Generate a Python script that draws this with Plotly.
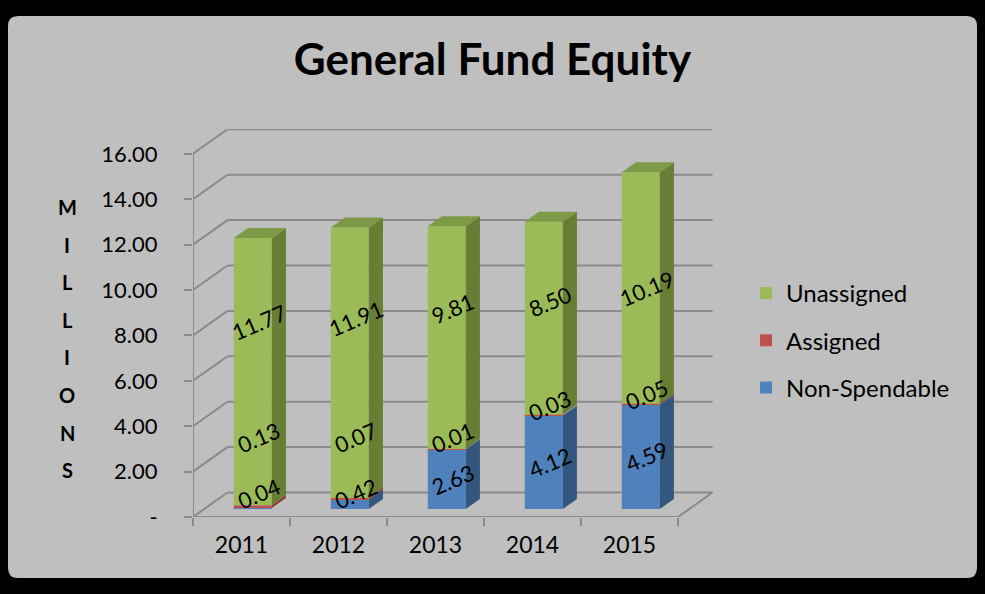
import plotly.graph_objects as go

# ---------------- data ----------------
years = ["2011", "2012", "2013", "2014", "2015"]
non_spendable = [0.04, 0.42, 2.63, 4.12, 4.59]
assigned = [0.13, 0.07, 0.01, 0.03, 0.05]
unassigned = [11.77, 11.91, 9.81, 8.50, 10.19]
y_tick_vals = [0, 2, 4, 6, 8, 10, 12, 14, 16]
y_tick_text = ["-", "2.00", "4.00", "6.00", "8.00", "10.00", "12.00", "14.00", "16.00"]
title_text = "General Fund Equity"
y_title = "MILLIONS"

# ---------------- geometry / style ----------------
W, H = 985, 594
L, R, T, B = 193, 272, 129, 77
PW, PH = W - L - R, H - T - B
PX_X, PX_Y = 97.0, 22.7
x_range = [-0.5, -0.5 + PW / PX_X]
y_range = [0, PH / PX_Y]
DDX, DDY = 34.5 / PX_X, 24.5 / PX_Y      # full depth of the 3-D floor
FRONT = 0.327                             # depth fraction of bar front face
SIDE = 0.41                               # depth fraction of bar thickness
BAR_W = 38 / PX_X
GRID = "#8a8a8a"
BG = "#bfbfbf"
FONT = "Lato, 'Open Sans', sans-serif"

series = [
    ("Non-Spendable", non_spendable, "#4f81bd", "#34577f", 3),
    ("Assigned", assigned, "#c0504d", "#8b3836", 2),
    ("Unassigned", unassigned, "#9bbb59", "#687e35", 1),
]
TOP_GREEN = "#7f9a47"

def px2paper(px, py):
    return (px - L) / PW, (H - B - py) / PH

fig = go.Figure()

n = len(years)
xs = list(range(n))
cum = [0.0] * n
base0 = FRONT * DDY
xoff = FRONT * DDX
sdx, sdy = SIDE * DDX, SIDE * DDY

# front faces (bars)
for name, vals, col, side_col, rank in series:
    fig.add_trace(go.Bar(
        x=[i + xoff for i in xs], y=vals,
        base=[base0 + c for c in cum], width=BAR_W,
        marker=dict(color=col, line=dict(width=0)),
        name=name, legendgroup=name, legendrank=rank, hoverinfo="skip",
    ))
    # side faces
    for i in xs:
        xr = i + xoff + BAR_W / 2
        y0 = base0 + cum[i]
        y1 = y0 + vals[i]
        fig.add_trace(go.Scatter(
            x=[xr, xr + sdx, xr + sdx, xr, xr],
            y=[y0, y0 + sdy, y1 + sdy, y1, y0],
            fill="toself", fillcolor=side_col, mode="lines",
            line=dict(width=0, color=side_col),
            showlegend=False, hoverinfo="skip"))
    cum = [c + v for c, v in zip(cum, vals)]

# top faces
for i in xs:
    xr = i + xoff + BAR_W / 2
    xl = xr - BAR_W
    yt = base0 + cum[i]
    fig.add_trace(go.Scatter(
        x=[xl, xr, xr + sdx, xl + sdx, xl],
        y=[yt, yt, yt + sdy, yt + sdy, yt],
        fill="toself", fillcolor=TOP_GREEN, mode="lines",
        line=dict(width=0, color=TOP_GREEN),
        showlegend=False, hoverinfo="skip"))

# walls / gridlines as shapes below
shapes = []
x0p, y0p = px2paper(8, 578)
x1p, y1p = px2paper(977, 16)
rx, ry = 10 / PW, 10 / PH
path = (f"M{x0p + rx},{y0p} L{x1p - rx},{y0p} Q{x1p},{y0p} {x1p},{y0p + ry} "
        f"L{x1p},{y1p - ry} Q{x1p},{y1p} {x1p - rx},{y1p} L{x0p + rx},{y1p} "
        f"Q{x0p},{y1p} {x0p},{y1p - ry} L{x0p},{y0p + ry} Q{x0p},{y0p} {x0p + rx},{y0p} Z")
shapes.append(dict(type="path", xref="paper", yref="paper", path=path,
                   fillcolor=BG, line=dict(width=0), layer="below"))
gl = dict(color=GRID, width=2)
for v in y_tick_vals:
    shapes.append(dict(type="line", xref="x", yref="y", x0=-0.5, y0=v,
                       x1=-0.5 + DDX, y1=v + DDY, line=gl, layer="below"))
    shapes.append(dict(type="line", xref="x", yref="y", x0=-0.5 + DDX, y0=v + DDY,
                       x1=x_range[1] - 0.005, y1=v + DDY, line=gl, layer="below"))
shapes.append(dict(type="line", xref="x", yref="y", x0=-0.5, y0=0, x1=-0.5,
                   y1=y_tick_vals[-1], line=gl, layer="below"))
shapes.append(dict(type="line", xref="x", yref="y", x0=-0.5, y0=0, x1=n - 0.5,
                   y1=0, line=gl, layer="below"))
shapes.append(dict(type="line", xref="x", yref="y", x0=n - 0.5, y0=0,
                   x1=n - 0.5 + DDX, y1=DDY, line=gl, layer="below"))

# data labels (rotated)
annotations = []
lab_font = dict(family=FONT, size=22, color="black")
ang = -23
for i in xs:
    xc = i + xoff + 0.06
    ns, asg, un = non_spendable[i], assigned[i], unassigned[i]
    y_ns = base0 + max(ns / 2, 0.7)
    y_as = base0 + max(ns + asg + 0.4, 3.15)
    mid_un = ns + asg + un / 2
    y_un = base0 + 0.4 * mid_un + 5.8
    for txt, yy in ((f"{ns:.2f}", y_ns), (f"{asg:.2f}", y_as), (f"{un:.2f}", y_un)):
        annotations.append(dict(x=xc, y=yy, xref="x", yref="y", text=txt,
                                showarrow=False, textangle=ang, font=lab_font))

# vertical axis title letters
for k, ch in enumerate(y_title):
    ax, ay = px2paper(67, 207 + k * 37.6)
    annotations.append(dict(x=ax, y=ay, xref="paper", yref="paper", text=f"<b>{ch}</b>",
                            showarrow=False, xanchor="center", yanchor="middle",
                            font=dict(family=FONT, size=20, color="black")))

fig.update_layout(
    width=W, height=H,
    margin=dict(l=L, r=R, t=T, b=B, autoexpand=False),
    paper_bgcolor="black", plot_bgcolor="rgba(0,0,0,0)",
    barmode="overlay",
    title=dict(text=f"<b>{title_text}</b>", x=0.5, xref="container", xanchor="center",
               y=1 - 60 / H, yref="container", yanchor="middle",
               font=dict(family=FONT, size=44, color="black")),
    xaxis=dict(range=x_range, tickmode="array", tickvals=xs, ticktext=years,
               ticks="", showgrid=False, zeroline=False, showline=False,
               tickfont=dict(family=FONT, size=23, color="black"),
               ticklabelstandoff=12,
               minor=dict(tickmode="array", tickvals=[i - 0.5 for i in range(n + 1)],
                          ticks="outside", ticklen=8, tickcolor=GRID, tickwidth=2,
                          showgrid=False)),
    yaxis=dict(range=y_range, tickmode="array", tickvals=y_tick_vals, ticktext=y_tick_text,
               ticks="outside", ticklen=8, tickcolor=GRID, tickwidth=2,
               showgrid=False, zeroline=False, showline=False,
               tickfont=dict(family=FONT, size=22, color="black"),
               ticklabelstandoff=22),
    legend=dict(x=px2paper(746, 0)[0], xanchor="left", y=px2paper(0, 271)[1], yanchor="top",
                traceorder="grouped", tracegroupgap=13, itemsizing="constant",
                bgcolor="rgba(0,0,0,0)", font=dict(family=FONT, size=24, color="black")),
    shapes=shapes, annotations=annotations,
    showlegend=True,
)

fig.write_html("out.html", config={"displayModeBar": False},
               post_script="document.body.style.margin='0px';")
